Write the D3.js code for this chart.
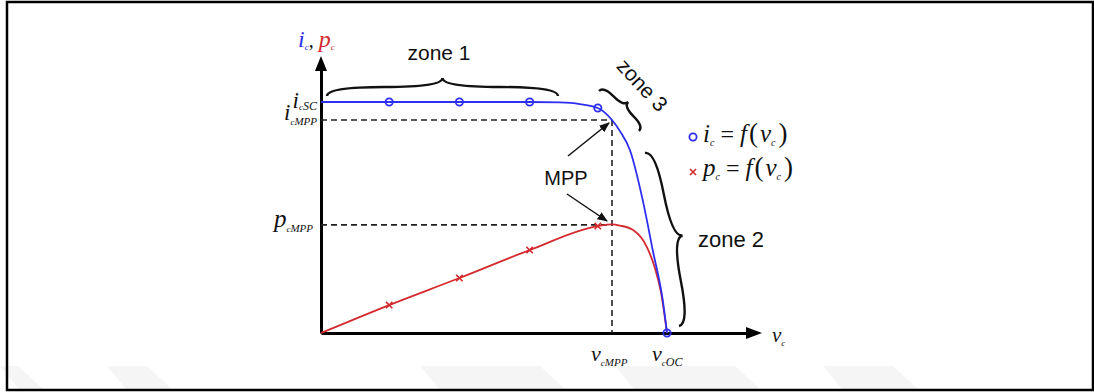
<!DOCTYPE html>
<html>
<head>
<meta charset="utf-8">
<script src="https://cdn.jsdelivr.net/npm/d3@7"></script>
<style>
  body { margin: 0; background: #fff; }
  svg { display: block; }
</style>
</head>
<body>
<svg width="1094" height="392"></svg>
<script>
// values (v: % of v_OC, i and p: share of i_SC)
var vBlue = [0, 19.7, 40, 60.3, 69, 74.8, 80, 84.1, 86.4, 89.3, 93, 95.9, 98.8, 100];
var iBlue = [1, 1, 1, 1, 0.998, 0.991, 0.974, 0.922, 0.874, 0.791, 0.574, 0.357, 0.139, 0];

var vRed = [0, 19.7, 40, 60.3, 80, 84.1, 86.4, 90.2, 94.2, 96.5, 98.3, 100];
var pRed = [0, 0.121, 0.238, 0.359, 0.463, 0.470, 0.465, 0.446, 0.372, 0.281, 0.173, 0];

var markV = [19.7, 40, 60.3, 80, 100];
var markI = [1, 1, 1, 0.974, 0];
var markP = [0.121, 0.238, 0.359, 0.463];

var vMPP = 84.1, vOC = 100;
var iSC = 1, iMPP = 0.922, pMPP = 0.468;

var svg = d3.select("svg");
var blue = "#2e2ef0", red = "#d42a2e";

// faint watermark bands at the bottom
var wm = [[0, 18], [107, 40], [420, 120], [615, 120], [823, 70]];
svg.append("g").selectAll("path").data(wm).enter().append("path")
    .attr("d", function(d) {
        return "M" + d[0] + ",366 L" + (d[0] + d[1]) + ",366 L" + (d[0] + d[1] + 26) + ",390 L" + (d[0] + 20) + ",390 Z";
    })
    .attr("fill", "#f5f5f5");

// frame
svg.append("rect")
    .attr("x", 7).attr("y", 2).attr("width", 1086).attr("height", 388)
    .attr("fill", "none").attr("stroke", "#000").attr("stroke-width", 2.5);

var x = d3.scaleLinear().domain([0, 100]).range([321, 667]);
var y = d3.scaleLinear().domain([0, 1]).range([333, 102]);

// axes (domain extended up to the arrow heads)
var xAxisScale = x.copy().domain([0, x.invert(750)]).range([321, 750]);
var yAxisScale = y.copy().domain([0, y.invert(68)]).range([333, 68]);

svg.append("g")
    .attr("transform", "translate(0," + y(0) + ")")
    .call(d3.axisBottom(xAxisScale).tickValues([]).tickSize(0).tickSizeOuter(0))
    .select(".domain").attr("stroke", "#000").attr("stroke-width", 3);
svg.append("g")
    .attr("transform", "translate(" + x(0) + ",0)")
    .call(d3.axisLeft(yAxisScale).tickValues([]).tickSize(0).tickSizeOuter(0))
    .select(".domain").attr("stroke", "#000").attr("stroke-width", 3);

// arrow heads
svg.append("path")
    .attr("d", "M762," + y(0) + " L746," + (y(0) - 6) + " L746," + (y(0) + 6) + " Z")
    .attr("fill", "#000");
svg.append("path")
    .attr("d", "M" + x(0) + ",56 L" + (x(0) - 6) + ",71 L" + (x(0) + 6) + ",71 Z")
    .attr("fill", "#000");

// dashed guides to the MPP
var dash = svg.append("g").attr("stroke", "#222").attr("stroke-width", 1.6)
    .attr("stroke-dasharray", "6,4").attr("fill", "none");
dash.append("line").attr("x1", x(0)).attr("x2", x(vMPP)).attr("y1", y(iMPP)).attr("y2", y(iMPP));
dash.append("line").attr("x1", x(0)).attr("x2", x(vMPP)).attr("y1", y(pMPP)).attr("y2", y(pMPP));
dash.append("line").attr("x1", x(vMPP)).attr("x2", x(vMPP)).attr("y1", y(iMPP)).attr("y2", y(0));

// curves
var blueData = vBlue.map(function(v, k) { return [v, iBlue[k]]; });
var redData = vRed.map(function(v, k) { return [v, pRed[k]]; });

var line = d3.line()
    .x(function(d) { return x(d[0]); })
    .y(function(d) { return y(d[1]); })
    .curve(d3.curveMonotoneX);

svg.append("path").datum(redData).attr("d", line)
    .attr("fill", "none").attr("stroke", red).attr("stroke-width", 1.8);
svg.append("path").datum(blueData).attr("d", line)
    .attr("fill", "none").attr("stroke", blue).attr("stroke-width", 1.8);

// markers
svg.append("g").selectAll("path").data(markP).enter().append("path")
    .attr("d", function(d, k) {
        var cx = x(markV[k]), cy = y(d), s = 3.2;
        return "M" + (cx - s) + "," + (cy - s) + "L" + (cx + s) + "," + (cy + s) +
               "M" + (cx - s) + "," + (cy + s) + "L" + (cx + s) + "," + (cy - s);
    })
    .attr("stroke", red).attr("stroke-width", 1.6);
svg.append("g").selectAll("circle").data(markI).enter().append("circle")
    .attr("cx", function(d, k) { return x(markV[k]); })
    .attr("cy", function(d) { return y(d); })
    .attr("r", 3.6)
    .attr("fill", "none").attr("stroke", blue).attr("stroke-width", 1.8);

// rich math text helper
function rich(g, px, py, anchor, parts) {
    var t = g.append("text").attr("x", px).attr("y", py)
        .attr("text-anchor", anchor)
        .attr("font-family", "'Liberation Serif', 'Times New Roman', serif");
    parts.forEach(function(p) {
        t.append("tspan").text(p.t)
            .attr("font-size", p.s)
            .attr("font-style", p.it ? "italic" : "normal")
            .attr("dy", p.dy || 0)
            .attr("dx", p.dx || 0)
            .attr("fill", p.c || "#111");
    });
    return t;
}

// tick labels
rich(svg, 317, 108, "end", [{t: "i", s: 23, it: true}, {t: "c", s: 9, it: true, dy: 2}, {t: "SC", s: 12, it: true}]);
rich(svg, 317, 120, "end", [{t: "i", s: 23, it: true}, {t: "c", s: 9, it: true, dy: 5}, {t: "MPP", s: 11, it: true}]);
rich(svg, 313, 227, "end", [{t: "p", s: 25, it: true}, {t: "c", s: 9, it: true, dy: 5}, {t: "MPP", s: 11, it: true}]);
rich(svg, 591, 361, "start", [{t: "v", s: 22, it: true}, {t: "c", s: 9, it: true, dy: 5}, {t: "MPP", s: 11, it: true}]);
rich(svg, 652, 361, "start", [{t: "v", s: 22, it: true}, {t: "c", s: 9, it: true, dy: 5}, {t: "OC", s: 12, it: true}]);
rich(svg, 772, 342, "start", [{t: "v", s: 21, it: true}, {t: "c", s: 9, it: true, dy: 4}]);

// axis title
rich(svg, 298, 47, "start", [
    {t: "i", s: 24, it: true, c: blue}, {t: "c", s: 9, it: true, dy: 3, c: blue},
    {t: ", ", s: 20, dy: -3}, {t: "p", s: 24, it: true, c: red}, {t: "c", s: 9, it: true, dy: 3, c: red}
]);

// legend
svg.append("circle").attr("cx", 693).attr("cy", 137).attr("r", 3.6)
    .attr("fill", "none").attr("stroke", blue).attr("stroke-width", 1.8);
svg.append("path")
    .attr("d", "M690,169L696,175M690,175L696,169")
    .attr("stroke", red).attr("stroke-width", 1.6);
var eq = function(sym) {
    return [
        {t: sym, s: 25, it: true}, {t: "c", s: 10, it: true, dy: 4},
        {t: " = ", s: 24, dy: -4}, {t: "f", s: 25, it: true},
        {t: "(", s: 27, dx: 2}, {t: "v", s: 25, it: true, dx: 2}, {t: "c", s: 10, it: true, dy: 4},
        {t: ")", s: 27, dy: -4, dx: 3}
    ];
};
rich(svg, 703, 142, "start", eq("i"));
rich(svg, 703, 176, "start", eq("p"));

// zone braces
function brace(x1, y1, x2, y2, w, q) {
    var dx = x1 - x2, dy = y1 - y2, len = Math.sqrt(dx * dx + dy * dy);
    dx /= len; dy /= len;
    var qx1 = x1 + q * w * dy, qy1 = y1 - q * w * dx;
    var qx2 = (x1 - .25 * len * dx) + (1 - q) * w * dy, qy2 = (y1 - .25 * len * dy) - (1 - q) * w * dx;
    var tx1 = (x1 - .5 * len * dx) + w * dy, ty1 = (y1 - .5 * len * dy) - w * dx;
    var qx3 = x2 + q * w * dy, qy3 = y2 - q * w * dx;
    var qx4 = (x1 - .75 * len * dx) + (1 - q) * w * dy, qy4 = (y1 - .75 * len * dy) - (1 - q) * w * dx;
    return "M" + x1 + "," + y1 + " Q" + qx1 + "," + qy1 + " " + qx2 + "," + qy2 + " T" + tx1 + "," + ty1 +
           " M" + x2 + "," + y2 + " Q" + qx3 + "," + qy3 + " " + qx4 + "," + qy4 + " T" + tx1 + "," + ty1;
}
var braces = svg.append("g").attr("fill", "none").attr("stroke", "#111").attr("stroke-width", 2.4);
braces.append("path").attr("d", brace(558, 96, 327, 96, 18, 0.5));
braces.append("path").attr("d", brace(639, 131, 599, 91, 13, 0.5));
braces.append("path").attr("d", brace(679, 326, 645, 153, 21, 0.5));

var sans = "'Liberation Sans', Arial, sans-serif";
svg.append("text").attr("x", 439).attr("y", 60).attr("text-anchor", "middle")
    .attr("font-family", sans).attr("font-size", 21).attr("fill", "#111").text("zone 1");
svg.append("text").attr("x", 698).attr("y", 247)
    .attr("font-family", sans).attr("font-size", 22).attr("fill", "#111").text("zone 2");
svg.append("text").attr("text-anchor", "middle")
    .attr("transform", "translate(637,90) rotate(47)")
    .attr("font-family", sans).attr("font-size", 21).attr("fill", "#111").text("zone 3");

// MPP label with arrows
svg.append("defs").append("marker")
    .attr("id", "ah").attr("viewBox", "0 0 10 10").attr("refX", 9).attr("refY", 5)
    .attr("markerWidth", 7).attr("markerHeight", 7).attr("orient", "auto")
    .append("path").attr("d", "M0,1L10,5L0,9Z").attr("fill", "#111");
svg.append("text").attr("x", 566).attr("y", 185).attr("text-anchor", "middle")
    .attr("font-family", sans).attr("font-size", 20).attr("fill", "#111").text("MPP");
svg.append("line").attr("x1", 568).attr("y1", 156).attr("x2", 609).attr("y2", 123)
    .attr("stroke", "#111").attr("stroke-width", 1.5).attr("marker-end", "url(#ah)");
svg.append("line").attr("x1", 567).attr("y1", 194).attr("x2", 607).attr("y2", 221)
    .attr("stroke", "#111").attr("stroke-width", 1.5).attr("marker-end", "url(#ah)");
</script>
</body>
</html>
